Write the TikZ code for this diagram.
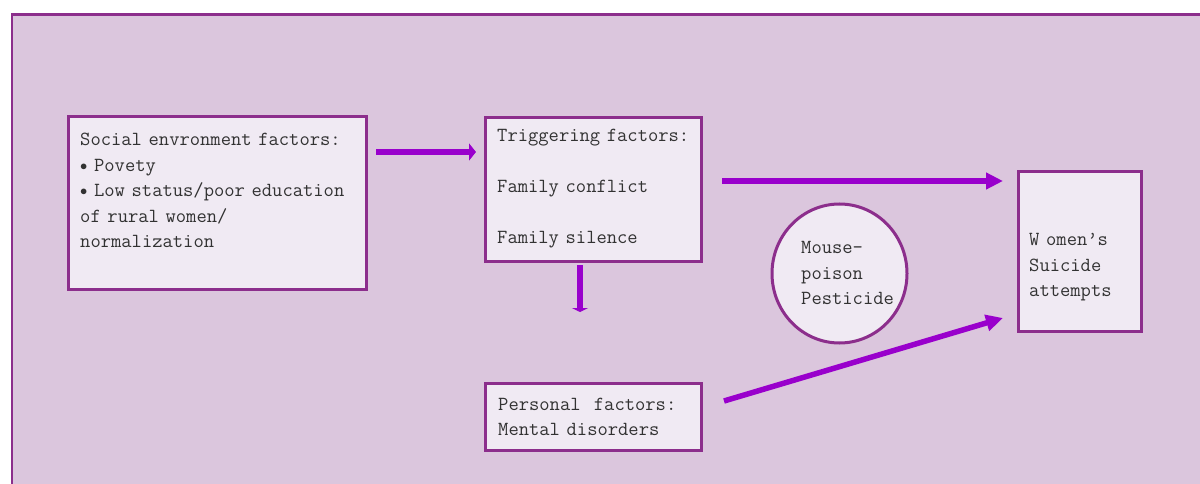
\documentclass[tikz,border=0pt]{standalone}
\usetikzlibrary{arrows.meta,shapes.geometric,calc}
\definecolor{panelfill}{RGB}{219,198,221}
\definecolor{boxfill}{RGB}{240,234,243}
\definecolor{boxline}{RGB}{140,46,140}
\definecolor{flowcol}{RGB}{153,0,204}
\definecolor{inktext}{RGB}{50,50,50}
\newcommand{\smallbullet}{\raisebox{0.15ex}{\scalebox{0.7}{$\bullet$}}}
\tikzset{
  panel/.style={draw=boxline, line width=2.5pt, fill=panelfill},
  factorbox/.style={rectangle, draw=boxline, line width=3pt, fill=boxfill,
    inner sep=0pt, outer sep=0pt},
  agentoval/.style={ellipse, draw=boxline, line width=3pt, fill=boxfill,
    inner sep=0pt, outer sep=0pt, minimum width=135pt, minimum height=139pt},
  boxtext/.style={anchor=base west, inner sep=0pt, text=inktext, align=left,
    text width=#1, font=\fontsize{20}{25.5}\selectfont\ttfamily},
  flow/.style={draw=flowcol, line width=5.5pt,
    -{Triangle[length=17pt,width=16pt]}},
  shortflow/.style={draw=flowcol, line width=5.5pt,
    -{Triangle[length=7pt,width=17pt]}},
  dropflow/.style={draw=flowcol, line width=6pt,
    -{Triangle[length=4pt,width=16pt]}},
}
\begin{document}
\begin{tikzpicture}[x=1pt,y=-1pt]
\useasboundingbox (0,0) rectangle (1200,484);
\clip (0,0) rectangle (1200,484);

% background panel running off the right and bottom edges
\path[panel] (12,14.5) rectangle (1215,500);

% boxes
\node[factorbox, minimum width=298pt, minimum height=172pt] (soc) at (217,203) {};
\node[factorbox, minimum width=216pt, minimum height=143pt] (trig) at (593,189.5) {};
\node[factorbox, minimum width=216pt, minimum height=67pt] (pers) at (593,416.5) {};
\node[factorbox, minimum width=123pt, minimum height=159pt] (wom) at (1079.5,251.5) {};
\node[agentoval] (agent) at (839.5,273.5) {};

% box texts
\node[boxtext=290pt] (soctxt) at (80,146) {Social envronment factors:\\
\smallbullet\ Povety\\
\smallbullet\ Low status/poor education\\
of rural women/\\
normalization};
\node[boxtext=210pt] (trigtxt) at (497,142) {Triggering factors:\\[25.5pt]
Family conflict\\[25.5pt]
Family silence};
\node[boxtext=210pt] (perstxt) at (498,410) {Personal\ \ factors:\\[-0.5pt]
Mental disorders};
\node[boxtext=120pt] (agenttxt) at (801,253.5) {Mouse-\\
poison\\
Pesticide};
\node[boxtext=120pt] (womtxt) at (1029,245.5) {W omen’s\\
Suicide\\
attempts};

% connectors
\coordinate (drop) at (580,312);
\draw[shortflow] ([shift={(10,35)}]soc.north east) -- ([shift={(-9,34)}]trig.north west);
\draw[dropflow] ([shift={(-13,4)}]trig.south) -- (drop);
\draw[flow] ([shift={(21,63)}]trig.north east) -- ([shift={(-15,9)}]wom.north west);
\draw[flow] ([shift={(23,-15.5)}]pers.east) -- ([shift={(-15,146)}]wom.north west);
\end{tikzpicture}
\end{document}
